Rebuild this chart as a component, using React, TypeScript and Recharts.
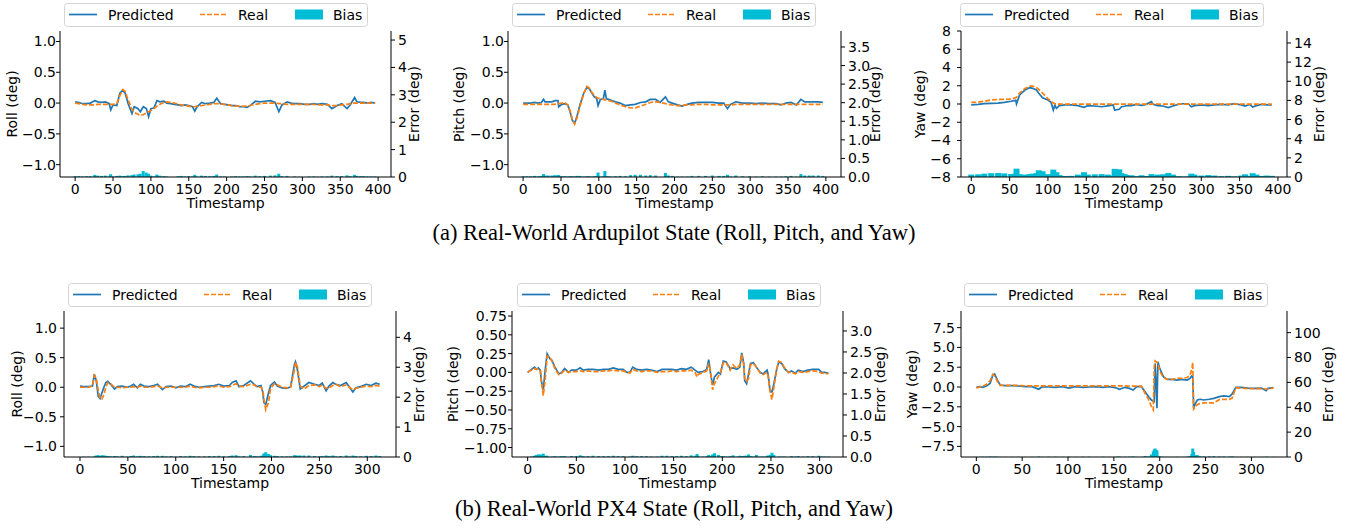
import React from "react";
import { ComposedChart, Line, Bar, XAxis, YAxis } from "recharts";

const FONT = "'DejaVu Sans', sans-serif";
const C_PRED = "#1f77b4";
const C_REAL = "#ff7f0e";
const C_BIAS = "#00bcd4";

// ---- Ardupilot roll ----
const rollApT = [0,5,10,15,20,26,30,35,40,45,47,50,55,59,63,66,70,75,78,83,86,90,94,97,100,104,108,112,117,121,126,131,136,140,145,150,155,158,161,167,172,178,183,187,192,197,202,207,212,217,222,227,231,238,244,250,258,264,269,273,280,285,290,297,303,309,315,320,326,333,339,346,352,359,363,369,372,377,381,386,391,396];
const rollApPred = [0.02,0.01,-0.01,-0.01,0.0,0.04,0.02,0.01,0.02,-0.01,-0.11,-0.03,-0.04,0.16,0.21,0.16,-0.01,-0.17,-0.06,-0.09,-0.14,-0.06,-0.09,-0.22,-0.09,-0.08,0.04,0.02,0.03,0.0,-0.01,-0.02,-0.03,-0.04,-0.03,-0.04,-0.06,-0.13,-0.06,0.01,-0.01,0.0,0.01,0.08,-0.01,-0.02,-0.03,-0.04,-0.04,-0.06,-0.06,-0.07,-0.04,0.03,0.02,0.03,0.04,0.01,-0.14,-0.03,0.02,0.0,-0.01,-0.01,-0.02,-0.02,-0.01,-0.02,-0.01,-0.02,-0.09,-0.04,-0.01,-0.09,-0.03,0.09,0.02,0.01,0.01,0.0,0.01,0.0];
const rollApReal = [0.0,-0.01,-0.02,-0.03,-0.03,-0.03,-0.02,-0.02,-0.02,-0.02,-0.02,-0.02,-0.01,0.12,0.22,0.19,0.05,-0.1,-0.15,-0.18,-0.2,-0.19,-0.16,-0.14,-0.12,-0.09,-0.05,-0.02,0.01,0.02,0.01,0.0,-0.02,-0.03,-0.04,-0.05,-0.06,-0.06,-0.05,-0.04,-0.03,-0.02,-0.01,-0.01,-0.01,-0.02,-0.03,-0.04,-0.05,-0.05,-0.05,-0.05,-0.04,-0.02,-0.01,0.0,0.0,0.0,-0.01,-0.01,-0.02,-0.02,-0.02,-0.02,-0.02,-0.02,-0.02,-0.03,-0.03,-0.03,-0.04,-0.04,-0.03,-0.02,-0.01,0.0,0.0,0.0,0.0,0.0,0.0,0.0];
const rollApBias = [0.03,0.03,0.02,0.03,0.03,0.08,0.05,0.04,0.05,0.02,0.1,0.02,0.04,0.05,0.03,0.04,0.06,0.07,0.09,0.1,0.12,0.22,0.16,0.12,0.05,0.02,0.09,0.05,0.03,0.02,0.0,0.0,0.03,0.04,0.02,0.03,0.02,0.08,0.02,0.05,0.04,0.03,0.04,0.09,0.02,0.02,0.0,0.02,0.03,0.02,0.02,0.03,0.02,0.05,0.03,0.04,0.05,0.06,0.12,0.03,0.04,0.0,0.02,0.01,0.0,0.02,0.02,0.01,0.02,0.02,0.05,0.03,0.03,0.06,0.03,0.08,0.04,0.03,0.03,0.02,0.02,0.02];

// ---- Ardupilot pitch ----
const pitchApT = [0,5,10,15,20,24,27,29,33,38,42,46,47,51,55,59,62,65,68,71,75,80,84,87,91,94,97,99,102,106,108,110,113,117,122,128,135,142,148,155,162,168,175,181,188,192,197,204,210,217,223,232,241,250,259,265,270,274,281,290,299,308,316,325,334,341,347,354,361,367,372,378,383,390,396];
const pitchApPred = [0.0,0.0,0.0,0.01,0.0,0.01,0.06,0.02,0.02,0.02,0.04,0.04,-0.06,-0.02,-0.01,-0.03,-0.14,-0.28,-0.33,-0.22,-0.03,0.16,0.25,0.24,0.16,0.1,0.08,-0.04,0.06,0.07,0.21,0.07,0.06,0.04,0.02,0.0,-0.04,-0.03,-0.02,0.01,0.02,0.06,0.06,0.01,0.1,0.02,0.0,-0.03,-0.05,-0.02,0.0,0.01,0.01,0.01,0.0,0.0,-0.09,-0.02,0.02,0.0,0.0,-0.01,0.0,-0.01,-0.01,-0.03,0.0,0.01,-0.03,0.06,0.02,0.02,0.02,0.02,0.01];
const pitchApReal = [-0.02,-0.02,-0.02,-0.02,-0.02,-0.02,-0.02,-0.02,-0.02,-0.02,-0.02,-0.01,-0.01,0.0,0.01,-0.03,-0.12,-0.26,-0.34,-0.25,-0.06,0.15,0.27,0.25,0.17,0.12,0.09,0.08,0.07,0.06,0.05,0.05,0.04,0.03,0.0,-0.03,-0.06,-0.08,-0.08,-0.05,-0.02,0.01,0.02,0.01,-0.01,-0.02,-0.03,-0.04,-0.04,-0.03,-0.03,-0.02,-0.02,-0.03,-0.03,-0.03,-0.03,-0.03,-0.02,-0.02,-0.02,-0.02,-0.02,-0.02,-0.02,-0.02,-0.02,-0.02,-0.02,-0.02,-0.02,-0.02,-0.02,-0.02,-0.02];
const pitchApBias = [0.02,0.02,0.02,0.03,0.02,0.03,0.08,0.04,0.04,0.04,0.05,0.05,0.05,0.02,0.02,0.01,0.02,0.02,0.01,0.03,0.03,0.01,0.02,0.02,0.01,0.02,0.03,0.12,0.01,0.02,0.16,0.02,0.02,0.01,0.02,0.03,0.02,0.05,0.06,0.06,0.04,0.05,0.04,0.0,0.11,0.04,0.03,0.01,0.01,0.01,0.03,0.03,0.03,0.04,0.03,0.03,0.06,0.01,0.04,0.02,0.02,0.01,0.02,0.01,0.01,0.01,0.02,0.03,0.01,0.08,0.04,0.04,0.04,0.04,0.03];

// ---- Ardupilot yaw ----
const yawApT = [0,9,17,26,35,43,52,58,59,63,70,76,80,85,88,93,100,104,107,109,111,115,122,130,139,147,152,161,170,178,185,187,193,196,200,203,209,215,222,228,235,237,243,250,257,263,270,276,283,287,291,300,309,317,326,335,343,352,357,363,367,372,378,385,392];
const yawApPred = [-0.1,-0.04,0.04,0.07,0.1,0.18,0.3,0.4,0.0,1.0,1.53,1.79,1.72,1.53,1.17,0.69,0.44,0.18,-0.66,-0.1,-0.47,-0.18,-0.1,-0.1,-0.18,-0.36,-0.18,-0.22,-0.3,-0.2,-0.1,-0.66,-0.58,-0.3,-0.25,-0.18,-0.18,-0.04,-0.15,-0.04,0.26,-0.04,-0.18,-0.22,-0.4,-0.22,-0.04,0.03,0.03,-0.3,-0.18,-0.1,-0.18,-0.1,-0.04,-0.1,0.03,-0.1,-0.22,-0.04,-0.33,-0.18,-0.04,-0.1,-0.1];
const yawApReal = [0.18,0.2,0.3,0.45,0.5,0.5,0.55,0.7,0.75,1.2,1.7,1.95,1.95,1.8,1.6,1.2,0.6,0.3,0.1,0.02,0.0,-0.02,-0.02,-0.02,-0.02,-0.02,-0.02,-0.02,-0.02,-0.02,-0.02,-0.02,-0.02,-0.02,-0.02,-0.02,-0.02,-0.02,-0.02,-0.02,-0.02,-0.02,-0.02,-0.02,-0.02,-0.02,-0.02,-0.02,-0.02,-0.02,-0.02,-0.02,-0.02,-0.02,-0.02,-0.02,-0.02,-0.02,-0.02,-0.02,-0.02,-0.02,-0.02,-0.02,-0.02];
const yawApBias = [0.25,0.28,0.35,0.4,0.42,0.38,0.32,0.35,0.87,0.3,0.25,0.3,0.35,0.4,0.7,0.6,0.3,0.2,0.77,0.2,0.5,0.2,0.1,0.12,0.25,0.5,0.25,0.28,0.3,0.25,0.15,0.85,0.8,0.4,0.3,0.2,0.18,0.08,0.18,0.1,0.3,0.08,0.25,0.28,0.42,0.25,0.08,0.05,0.06,0.35,0.25,0.15,0.2,0.15,0.08,0.12,0.06,0.15,0.28,0.12,0.4,0.25,0.1,0.15,0.12];

// ---- PX4 roll ----
const rollPxT = [0,4,9,13,15,17,19,21,23,25,27,29,32,36,39,44,49,53,56,60,63,67,72,77,81,86,90,95,100,105,110,115,119,124,130,135,140,145,150,156,159,163,166,171,178,182,185,189,191,192,194,197,199,203,206,211,216,220,224,225,227,230,234,239,245,250,253,257,260,264,267,272,278,281,285,288,293,299,304,309,313];
const rollPxPred = [0.02,0.01,0.01,0.02,0.22,0.11,-0.15,-0.19,-0.09,0.0,0.08,0.1,0.05,-0.03,0.01,0.02,0.0,0.02,0.05,-0.01,0.05,0.02,0.01,0.03,0.05,-0.04,0.01,0.02,-0.01,0.02,0.01,0.05,0.02,0.0,0.01,0.02,0.03,0.05,0.02,0.03,0.08,0.11,0.01,0.03,0.11,0.05,0.01,0.03,-0.09,-0.26,-0.29,-0.09,0.03,0.09,0.02,-0.01,-0.02,0.01,0.39,0.43,0.3,-0.03,0.02,0.08,0.05,0.03,0.07,-0.06,0.02,0.08,0.05,0.03,0.08,0.01,-0.08,-0.01,0.01,0.05,0.03,0.07,0.05];
const rollPxReal = [0.0,0.0,0.0,0.02,0.2,0.15,-0.05,-0.19,-0.2,-0.12,0.0,0.08,0.06,0.0,0.0,-0.01,0.0,0.0,0.01,0.0,0.02,0.0,0.0,0.01,0.02,-0.01,0.0,0.0,0.0,0.0,0.0,0.02,0.0,-0.01,0.0,0.0,0.01,0.02,0.0,0.01,0.03,0.06,0.02,0.01,0.05,0.04,0.0,0.0,-0.05,-0.2,-0.38,-0.25,-0.02,0.06,0.04,0.0,-0.01,0.0,0.3,0.42,0.35,0.02,-0.03,0.03,0.04,0.01,0.04,-0.02,-0.01,0.03,0.05,0.01,0.04,0.0,-0.04,-0.02,0.0,0.02,0.01,0.03,0.02];
const rollPxBias = [0.0,0.01,0.01,0.0,0.02,0.05,0.06,0.03,0.06,0.05,0.04,0.03,0.02,0.03,0.02,0.04,0.01,0.03,0.05,0.02,0.04,0.03,0.02,0.03,0.04,0.04,0.02,0.03,0.01,0.03,0.02,0.04,0.03,0.02,0.02,0.03,0.03,0.04,0.02,0.03,0.05,0.06,0.02,0.03,0.07,0.03,0.02,0.04,0.05,0.12,0.16,0.1,0.06,0.04,0.03,0.02,0.02,0.02,0.06,0.04,0.05,0.05,0.05,0.05,0.03,0.02,0.03,0.05,0.03,0.05,0.02,0.03,0.05,0.02,0.05,0.03,0.02,0.04,0.03,0.05,0.03];

// ---- PX4 pitch ----
const pitchPxT = [0,2,4,7,9,11,13,14,16,18,20,23,25,28,32,35,38,42,45,50,54,57,62,67,73,78,83,88,93,98,102,105,108,112,117,122,127,133,138,143,148,153,158,163,168,172,174,175,180,184,186,188,190,192,196,198,201,204,208,211,215,218,220,222,223,225,227,229,232,235,239,242,246,247,249,251,253,256,258,261,264,268,271,275,278,283,288,293,299,302,305,309];
const pitchPxPred = [0.0,0.02,0.04,0.07,0.04,0.06,0.03,-0.11,-0.24,0.03,0.25,0.18,0.16,0.07,-0.02,0.0,0.05,0.0,0.03,0.03,0.06,0.03,0.04,0.04,0.03,0.04,0.04,0.06,0.04,0.04,0.0,0.0,0.07,0.04,0.03,0.04,0.03,0.01,0.04,0.04,0.04,0.03,0.05,0.04,0.07,0.03,0.01,0.0,0.01,0.04,0.17,-0.02,-0.17,-0.06,0.0,-0.02,0.15,0.14,0.05,0.06,0.04,0.07,0.26,0.12,-0.11,-0.15,-0.02,0.12,0.13,0.07,0.0,-0.02,0.03,-0.02,-0.24,-0.26,-0.15,0.05,0.14,0.12,0.05,0.0,0.02,-0.01,0.03,0.01,0.03,0.04,0.04,0.0,0.0,-0.01];
const pitchPxReal = [0.0,0.02,0.03,0.05,0.04,0.05,0.02,-0.1,-0.31,-0.1,0.22,0.2,0.15,0.05,-0.03,-0.01,0.03,0.0,0.01,0.01,0.02,0.01,0.02,0.01,0.01,0.02,0.02,0.03,0.02,0.02,0.0,-0.01,0.04,0.02,0.01,0.02,0.02,0.0,0.01,0.01,0.02,0.01,0.02,0.02,0.03,0.0,-0.06,-0.03,0.0,0.02,0.12,0.0,-0.23,-0.15,-0.05,0.0,0.13,0.13,0.03,0.1,0.05,0.1,0.24,0.1,-0.08,-0.12,-0.08,0.1,0.12,0.07,-0.01,-0.03,0.0,-0.05,-0.25,-0.36,-0.2,0.05,0.15,0.13,0.06,0.0,0.0,-0.02,0.01,0.0,0.01,0.02,0.01,-0.01,-0.01,-0.02];
const pitchPxBias = [0.0,0.0,0.01,0.03,0.05,0.06,0.06,0.03,0.08,0.03,0.03,0.0,0.01,0.02,0.01,0.02,0.02,0.0,0.02,0.02,0.04,0.02,0.02,0.03,0.02,0.02,0.02,0.03,0.02,0.02,0.0,0.01,0.03,0.02,0.02,0.02,0.01,0.01,0.03,0.03,0.02,0.02,0.03,0.02,0.04,0.03,0.07,0.03,0.01,0.02,0.05,0.02,0.06,0.09,0.05,0.02,0.02,0.01,0.02,0.04,0.01,0.03,0.02,0.02,0.03,0.03,0.06,0.02,0.01,0.05,0.01,0.01,0.03,0.03,0.05,0.1,0.05,0.0,0.01,0.01,0.01,0.0,0.02,0.01,0.02,0.01,0.02,0.02,0.03,0.01,0.01,0.01];

// ---- PX4 yaw ----
const yawPxT = [0,4,7,11,15,18,20,23,26,31,39,46,53,61,68,72,79,86,94,101,108,116,123,131,138,145,153,156,162,167,171,175,180,184,188,191,193,194,195,196,197,198,200,204,208,213,219,224,230,233,235,236,237,239,241,244,248,254,259,265,270,276,279,283,289,296,303,311,316,318,324];
const yawPxPred = [-0.04,0.04,-0.04,0.13,0.46,1.5,1.64,0.88,0.25,0.17,0.17,0.13,0.04,0.04,-0.29,0.04,0.0,-0.04,0.04,-0.13,0.04,-0.04,0.0,0.04,-0.04,0.04,-0.13,-0.29,-0.04,-0.17,-0.38,0.04,0.04,-0.59,-1.22,-1.64,-1.8,-1.85,2.98,0.46,-2.69,3.19,2.35,1.3,0.97,0.97,0.88,0.97,0.88,1.09,1.39,1.3,-2.69,-2.06,-1.64,-1.55,-1.64,-1.55,-1.43,-1.22,-1.13,-1.22,-0.88,-0.04,-0.04,-0.13,-0.17,-0.13,-0.46,-0.17,-0.08];
const yawPxReal = [-0.1,0.0,0.1,0.3,0.8,1.6,1.4,0.7,0.2,0.2,0.2,0.2,0.15,0.15,0.15,0.15,0.15,0.15,0.15,0.15,0.15,0.15,0.15,0.15,0.15,0.15,0.15,0.15,0.15,0.1,0.1,0.1,0.1,-0.8,-1.6,-2.5,-2.9,2.5,3.3,3.2,3.1,3.0,2.0,1.2,1.0,0.95,1.1,1.1,1.2,1.5,2.2,3.1,-2.8,-2.5,-2.2,-2.1,-2.0,-2.0,-2.0,-1.6,-1.55,-1.55,-1.4,-0.1,-0.15,-0.2,-0.2,-0.2,-0.25,-0.2,-0.15];
const yawPxBias = [0.1,0.1,0.2,0.2,0.4,0.2,0.3,0.2,0.1,0.1,0.1,0.2,0.1,0.1,0.4,0.1,0.2,0.2,0.1,0.3,0.1,0.2,0.2,0.1,0.2,0.1,0.3,0.4,0.2,0.3,0.5,0.1,0.1,0.8,0.5,2.0,4.5,6.0,6.8,3.0,5.5,1.0,0.5,0.2,0.1,0.1,0.2,0.1,0.3,0.8,2.5,6.8,4.0,1.5,1.5,0.6,0.4,0.5,0.6,0.4,0.4,0.3,0.5,0.1,0.1,0.1,0.1,0.1,0.2,0.1,0.1];

// ---- ticks ----
const xTicksAp = [0, 50, 100, 150, 200, 250, 300, 350, 400];
const xTicksPx = [0, 50, 100, 150, 200, 250, 300];
const rollTicks = [-1, -0.5, 0, 0.5, 1];
const yawApTicks = [-8, -6, -4, -2, 0, 2, 4, 6, 8];
const pitchPxTicks = [-1, -0.75, -0.5, -0.25, 0, 0.25, 0.5, 0.75];
const yawPxTicks = [-7.5, -5, -2.5, 0, 2.5, 5, 7.5];
const errRollApTicks = [0, 1, 2, 3, 4, 5];
const errPitchApTicks = [0, 0.5, 1, 1.5, 2, 2.5, 3, 3.5];
const errYawApTicks = [0, 2, 4, 6, 8, 10, 12, 14];
const errRollPxTicks = [0, 1, 2, 3, 4];
const errPitchPxTicks = [0, 0.5, 1, 1.5, 2, 2.5, 3];
const errYawPxTicks = [0, 20, 40, 60, 80, 100];

const toRows = (t: number[], pred: number[], real: number[], bias: number[]) =>
  t.map((v, i) => ({ t: v, pred: pred[i], real: real[i], bias: bias[i] }));

const fmt = (d: number) => (v: number) => (v < 0 ? "\u2212" : "") + Math.abs(v).toFixed(d);

const tickStyle = { fontFamily: FONT, fontSize: 14, fill: "#000" };
const labelStyle = { fontFamily: FONT, fontSize: 14, fill: "#000", textAnchor: "middle" as const };

// fixed-width bars centred on their timestamp
const barShape = (w: number) => (props: any) => {
  const { x, y, width, height } = props;
  if (!height || height <= 0) return <g />;
  return <rect x={x + width / 2 - w / 2} y={y} width={w} height={height} fill={C_BIAS} />;
};

const LegendBox = () => (
  <svg width={305} height={25} style={{ display: "block" }}>
    <rect x={0.5} y={0.5} width={303} height={23} rx={3} fill="#fff" stroke="#d4d4d4" />
    <line x1={5} x2={33} y1={11.5} y2={11.5} stroke={C_PRED} strokeWidth={1.7} />
    <text x={44} y={16.5} style={tickStyle}>Predicted</text>
    <line x1={136} x2={164} y1={11.5} y2={11.5} stroke={C_REAL} strokeWidth={1.7} strokeDasharray="5 2" />
    <text x={174} y={16.5} style={tickStyle}>Real</text>
    <rect x={231} y={6.5} width={28} height={10} fill={C_BIAS} />
    <text x={269} y={16.5} style={tickStyle}>Bias</text>
  </svg>
);

interface PanelProps {
  rows: any[];
  box: [number, number, number, number];
  xDomain: [number, number];
  xTicks: number[];
  yDomain: [number, number];
  yTicks: number[];
  yDec: number;
  y2Domain: [number, number];
  y2Ticks: number[];
  y2Dec: number;
  yLabel: string;
  lOff: number;
  rOff: number;
  lGap: number;
  legend: [number, number];
  barW: number;
}

const PAD = 20;

const Panel = (p: PanelProps) => {
  const [x0, x1, y0, y1] = p.box;
  const w = x1 - x0 + 120 + PAD * 2;
  const h = y1 - y0 + 31 + 40;
  return (
    <>
      <div style={{ position: "absolute", left: x0 - 60 - PAD, top: y0 - 31 }}>
        <ComposedChart width={w} height={h} data={p.rows} margin={{ top: 31, right: PAD, bottom: 0, left: PAD }}>
          <XAxis
            dataKey="t"
            type="number"
            domain={p.xDomain}
            allowDataOverflow
            ticks={p.xTicks}
            interval={0}
            tick={tickStyle}
            tickSize={4}
            tickMargin={3}
            height={40}
            axisLine={{ stroke: "#000" }}
            tickLine={{ stroke: "#000" }}
            label={{ value: "Timestamp", position: "insideBottom", offset: 9, style: labelStyle }}
          />
          <XAxis xAxisId="top" orientation="top" dataKey="t" type="number" domain={p.xDomain} allowDataOverflow height={0} tick={false} tickLine={false} axisLine={{ stroke: "#000" }} />
          <YAxis
            yAxisId="left"
            width={60}
            type="number"
            domain={p.yDomain}
            allowDataOverflow
            ticks={p.yTicks}
            interval={0}
            tickFormatter={fmt(p.yDec)}
            tick={tickStyle}
            tickSize={4}
            tickMargin={p.lGap}
            axisLine={{ stroke: "#000" }}
            tickLine={{ stroke: "#000" }}
            label={{ value: p.yLabel, angle: -90, position: "insideLeft", offset: p.lOff, style: labelStyle }}
          />
          <YAxis
            yAxisId="right"
            orientation="right"
            width={60}
            type="number"
            domain={p.y2Domain}
            allowDataOverflow
            ticks={p.y2Ticks}
            interval={0}
            tickFormatter={fmt(p.y2Dec)}
            tick={tickStyle}
            tickSize={4}
            tickMargin={3}
            axisLine={{ stroke: "#000" }}
            tickLine={{ stroke: "#000" }}
            label={{ value: "Error (deg)", angle: -90, position: "insideRight", offset: p.rOff, style: labelStyle }}
          />
          <Line yAxisId="left" dataKey="pred" stroke={C_PRED} strokeWidth={1.7} dot={false} isAnimationActive={false} />
          <Line yAxisId="left" dataKey="real" stroke={C_REAL} strokeWidth={1.7} strokeDasharray="5 2" dot={false} isAnimationActive={false} />
          <Bar yAxisId="right" dataKey="bias" fill={C_BIAS} shape={barShape(p.barW)} isAnimationActive={false} />
        </ComposedChart>
      </div>
      <div style={{ position: "absolute", left: p.legend[0], top: p.legend[1] }}>
        <LegendBox />
      </div>
    </>
  );
};

const captionStyle: React.CSSProperties = {
  position: "absolute",
  left: 0,
  width: 1348,
  textAlign: "center",
  fontFamily: "'Liberation Serif', 'Times New Roman', serif",
  fontSize: 22.5,
  lineHeight: "24px",
  color: "#000",
};

export default function App() {
  return (
    <div style={{ position: "absolute", left: 0, top: 0, width: 1348, height: 532, background: "#fff", overflow: "hidden" }}>
      <Panel rows={toRows(rollApT, rollApPred, rollApReal, rollApBias)} box={[60, 391, 31, 177]} xDomain={[-20, 417]} xTicks={xTicksAp}
        yDomain={[-1.2, 1.17]} yTicks={rollTicks} yDec={1} y2Domain={[0, 5.33]} y2Ticks={errRollApTicks} y2Dec={0}
        yLabel="Roll (deg)" lOff={12} rOff={37} lGap={0} legend={[64, 3]} barW={3} />
      <Panel rows={toRows(pitchApT, pitchApPred, pitchApReal, pitchApBias)} box={[508, 841, 31, 177]} xDomain={[-20, 420]} xTicks={xTicksAp}
        yDomain={[-1.2, 1.17]} yTicks={rollTicks} yDec={1} y2Domain={[0, 3.93]} y2Ticks={errPitchApTicks} y2Dec={1}
        yLabel="Pitch (deg)" lOff={11} rOff={26} lGap={0} legend={[512, 3]} barW={3} />
      <Panel rows={toRows(yawApT, yawApPred, yawApReal, yawApBias)} box={[961, 1287, 31, 177]} xDomain={[-13.4, 411.8]} xTicks={xTicksAp}
        yDomain={[-8, 8]} yTicks={yawApTicks} yDec={0} y2Domain={[0, 15.25]} y2Ticks={errYawApTicks} y2Dec={0}
        yLabel="Yaw (deg)" lOff={19} rOff={28} lGap={6} legend={[960, 3]} barW={6} />
      <div style={{ ...captionStyle, top: 221 }}>(a) Real-World Ardupilot State (Roll, Pitch, and Yaw)</div>

      <Panel rows={toRows(rollPxT, rollPxPred, rollPxReal, rollPxBias)} box={[64, 396, 311, 457]} xDomain={[-16.7, 330]} xTicks={xTicksPx}
        yDomain={[-1.18, 1.29]} yTicks={rollTicks} yDec={1} y2Domain={[0, 4.88]} y2Ticks={errRollPxTicks} y2Dec={0}
        yLabel="Roll (deg)" lOff={13} rOff={37} lGap={3} legend={[68, 283]} barW={3} />
      <Panel rows={toRows(pitchPxT, pitchPxPred, pitchPxReal, pitchPxBias)} box={[512, 843, 311, 457]} xDomain={[-16.1, 324]} xTicks={xTicksPx}
        yDomain={[-1.126, 0.817]} yTicks={pitchPxTicks} yDec={2} y2Domain={[0, 3.475]} y2Ticks={errPitchPxTicks} y2Dec={1}
        yLabel="Pitch (deg)" lOff={1} rOff={23} lGap={1} legend={[517, 283]} barW={3} />
      <Panel rows={toRows(yawPxT, yawPxPred, yawPxReal, yawPxBias)} box={[961, 1287, 311, 457]} xDomain={[-16.7, 338.8]} xTicks={xTicksPx}
        yDomain={[-8.84, 9.6]} yTicks={yawPxTicks} yDec={1} y2Domain={[0, 117.4]} y2Ticks={errYawPxTicks} y2Dec={0}
        yLabel="Yaw (deg)" lOff={11} rOff={19} lGap={2} legend={[964, 283]} barW={3} />
      <div style={{ ...captionStyle, top: 497 }}>(b) Real-World PX4 State (Roll, Pitch, and Yaw)</div>
    </div>
  );
}
